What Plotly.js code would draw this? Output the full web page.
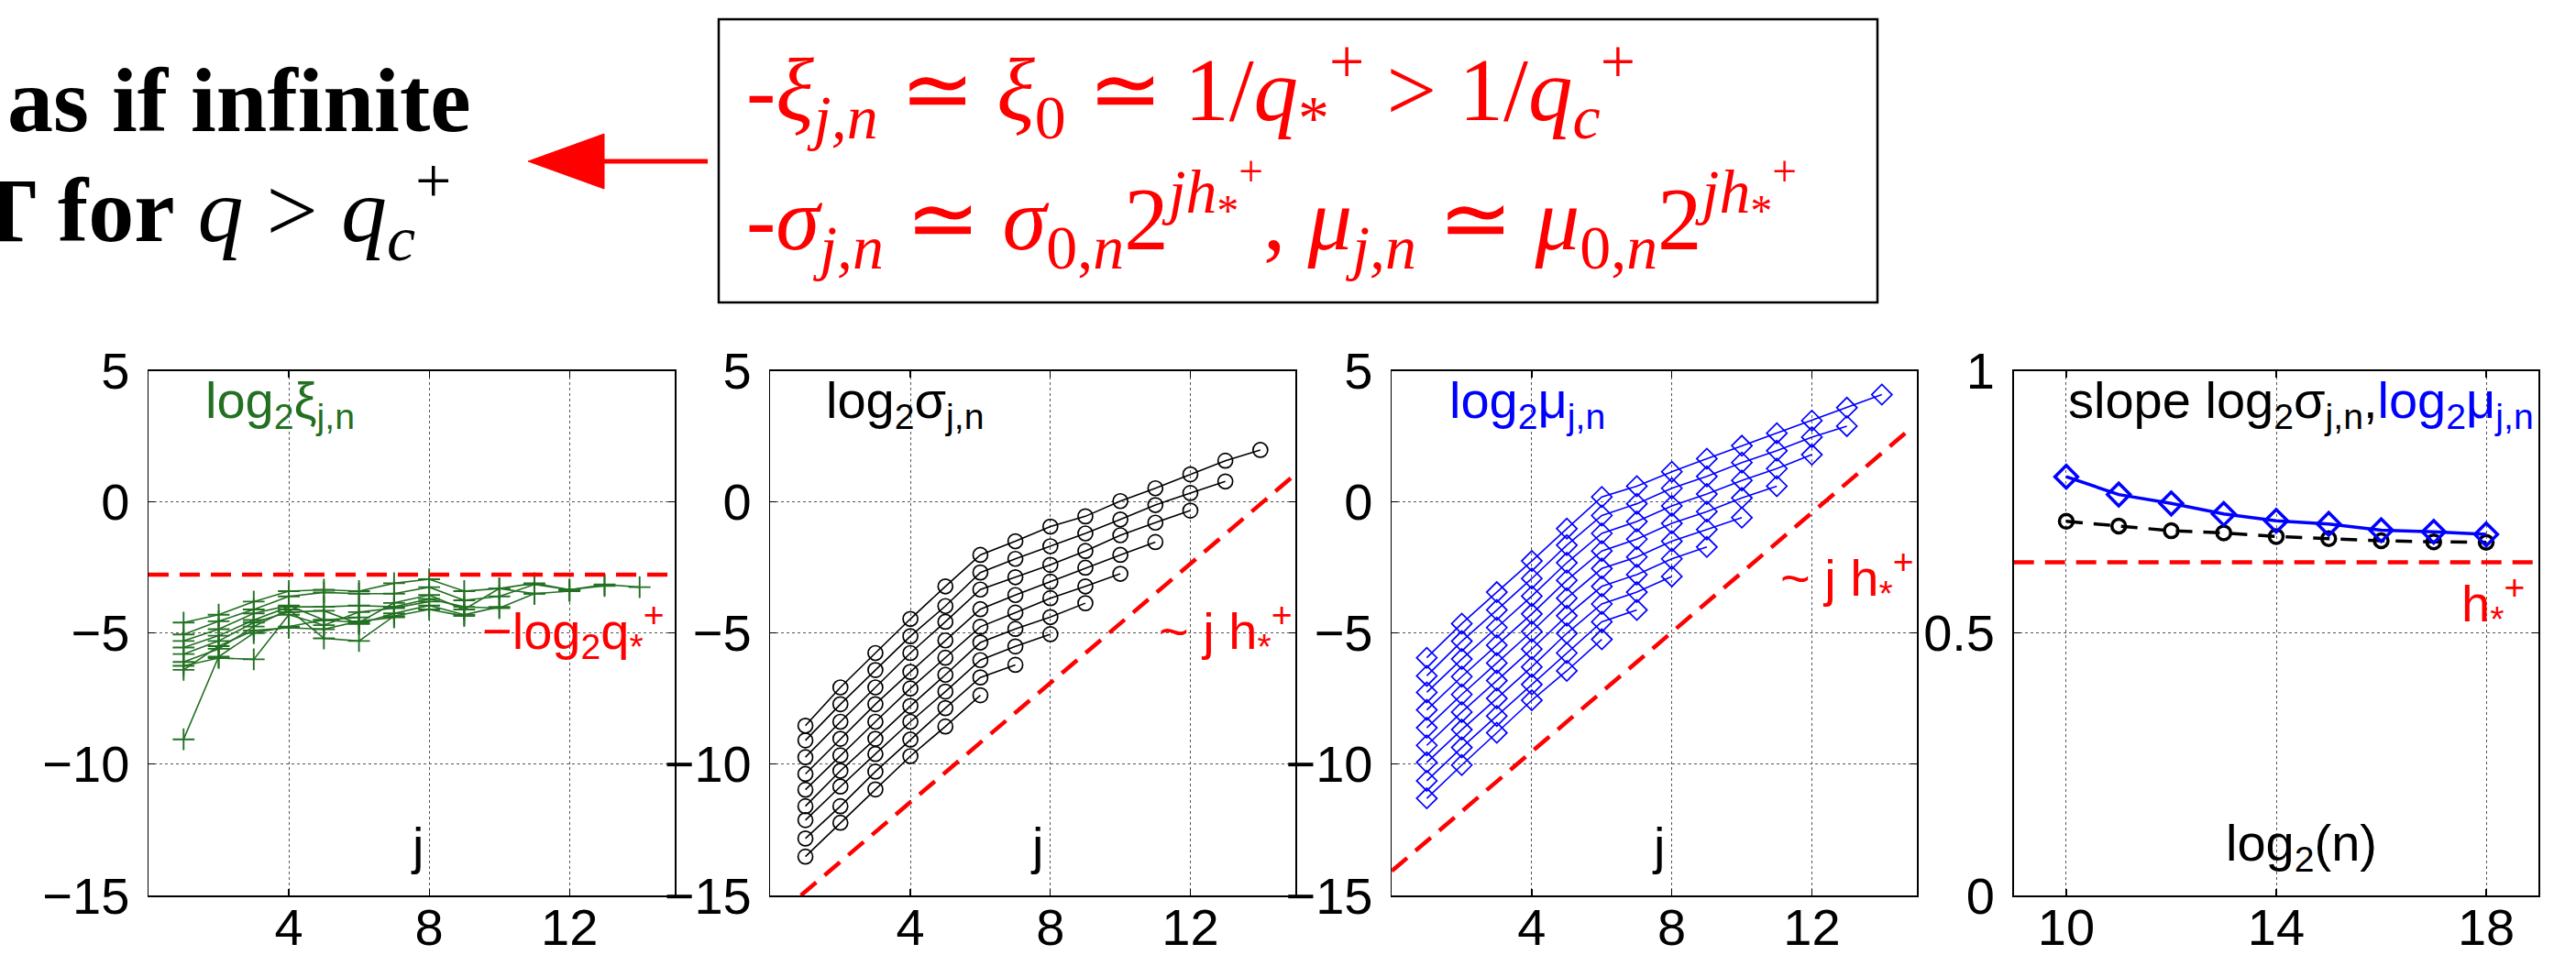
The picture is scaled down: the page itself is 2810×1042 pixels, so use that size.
<!DOCTYPE html>
<html><head><meta charset="utf-8">
<script src="https://cdn.plot.ly/plotly-3.0.1.min.js"></script>
<style>html,body{margin:0;padding:0;background:#fff;overflow:hidden}#chart{width:2810px;height:1042px}</style>
</head><body><div id="chart"></div>
<script>
// ---------------- data ----------------
const jScale = [1,2,3,4,5,6,7,8,9,10,11,12,13,14];
const nExp = [18,17,16,15,14,13,12,11,10];   // series: log2(n), longest first

const logXi = [
  [-4.6,-4.3,-3.8,-3.4,-3.35,-3.4,-3.1,-2.95,-3.4,-3.3,-3.1,-3.35,-3.15,-3.25],
  [-5.05,-4.55,-4.1,-3.6,-3.45,-3.5,-3.5,-3.25,-3.75,-3.6,-3.15,-3.35,-3.2],
  [-5.3,-4.85,-4.25,-3.95,-4.5,-4.6,-3.85,-3.55,-4.1,-3.3,-3.5,-3.4],
  [-5.55,-5.1,-4.5,-4.0,-4.0,-3.95,-4.0,-3.7,-4.0,-4.05,-3.5],
  [-5.8,-5.3,-4.6,-4.2,-4.15,-4.65,-4.25,-3.95,-4.3,-4.0],
  [-6.1,-5.6,-4.75,-4.1,-5.2,-5.3,-4.35,-4.1,-4.35],
  [-6.25,-5.95,-6.0,-4.3,-4.7,-4.2,-4.05,-3.8],
  [-6.4,-5.5,-4.9,-4.8,-4.85,-4.55,-4.4],
  [-9.05,-5.9,-5.0,-4.75,-4.5,-4.4]
];
const logSigma = [
  [-8.53,-7.07,-5.76,-4.46,-3.22,-2.02,-1.50,-0.94,-0.55,0.03,0.52,1.05,1.57,1.98],
  [-9.09,-7.71,-6.41,-5.12,-3.97,-2.69,-2.17,-1.69,-1.20,-0.67,-0.12,0.34,0.78],
  [-9.73,-8.38,-7.07,-5.76,-4.57,-3.34,-2.87,-2.40,-1.87,-1.27,-0.79,-0.33],
  [-10.37,-9.03,-7.71,-6.48,-5.28,-4.09,-3.55,-3.04,-2.51,-2.02,-1.53],
  [-10.97,-9.66,-8.38,-7.11,-5.94,-4.76,-4.22,-3.67,-3.22,-2.74],
  [-11.60,-10.25,-9.03,-7.78,-6.59,-5.36,-4.84,-4.39,-3.86],
  [-12.13,-10.85,-9.61,-8.38,-7.23,-6.03,-5.51,-5.04],
  [-12.83,-11.60,-10.28,-9.06,-7.86,-6.69,-6.21],
  [-13.52,-12.23,-10.96,-9.69,-8.56,-7.37]
];
const logMu = [
  [-5.94,-4.64,-3.44,-2.25,-1.02,0.19,0.60,1.15,1.65,2.14,2.62,3.10,3.59,4.09],
  [-6.63,-5.31,-4.12,-2.92,-1.65,-0.52,-0.07,0.52,0.97,1.50,1.95,2.47,2.89],
  [-7.26,-5.99,-4.79,-3.59,-2.32,-1.20,-0.75,-0.15,0.30,0.82,1.27,1.80],
  [-7.93,-6.66,-5.46,-4.27,-2.99,-1.87,-1.42,-0.82,-0.37,0.15,0.60],
  [-8.61,-7.34,-6.14,-4.94,-3.67,-2.54,-2.10,-1.50,-1.05,-0.60],
  [-9.28,-8.01,-6.81,-5.61,-4.34,-3.22,-2.77,-2.17,-1.72],
  [-9.93,-8.68,-7.49,-6.29,-5.01,-3.89,-3.44,-2.84],
  [-10.63,-9.36,-8.16,-6.96,-5.76,-4.57,-4.12],
  [-11.30,-10.03,-8.80,-7.56,-6.44,-5.24]
];
const log2n = [10,11,12,13,14,15,16,17,18];
const slopeSigma = [0.713,0.704,0.695,0.691,0.684,0.680,0.676,0.674,0.673];
const slopeMu    = [0.798,0.764,0.747,0.727,0.714,0.708,0.696,0.693,0.688];

const xiRefX = [0, 15],     xiRefY = [-2.77, -2.77];    // -log2 q*+
const sigRefX = [0.87, 15], sigRefY = [-15, 1.05];      // ~ j h*+
const muRefX = [0, 14.8],   muRefY = [-14.07, 2.77];    // ~ j h*+
const hRefX = [9, 19],      hRefY = [0.635, 0.635];     // h*+

const xTicksJ = [4, 8, 12];
const xTicksN = [10, 14, 18];
const yTicksLog = [-15, -10, -5, 0, 5];
const yTicksSlope = [0, 0.5, 1];

// ---------------- layout helpers ----------------
const W = 2810, H = 1042;
const GREEN = '#237023', BLUE = '#0000ff', RED = '#ff0000';
const SANS = 'Liberation Sans, Arial, sans-serif';
const SERIF = 'Liberation Serif, Times New Roman, serif';
const yDom = [1 - 977 / H, 1 - 404.5 / H];

function xAx(dom, range, ticks, anchor) {
  return {domain: dom, range: range, tickvals: ticks, ticktext: ticks.map(String),
    anchor: anchor, showline: true, linecolor: '#000', linewidth: 1.5, mirror: 'ticks',
    ticks: 'inside', ticklen: 7, tickwidth: 1.2, tickcolor: '#000',
    showgrid: true, gridcolor: '#555', griddash: 'dot', gridwidth: 1, zeroline: false,
    tickfont: {family: SANS, size: 56, color: '#000'}, ticklabelstandoff: -15, fixedrange: true};
}
function yAx(range, ticks, anchor, fmt) {
  return {domain: yDom, range: range, tickvals: ticks, ticktext: ticks.map(fmt),
    anchor: anchor, showline: true, linecolor: '#000', linewidth: 1.5, mirror: 'ticks',
    ticks: 'inside', ticklen: 7, tickwidth: 1.2, tickcolor: '#000',
    showgrid: true, gridcolor: '#555', griddash: 'dot', gridwidth: 1, zeroline: false,
    tickfont: {family: SANS, size: 56, color: '#000'}, ticklabelstandoff: 8, fixedrange: true};
}
const minus = v => (v < 0 ? '\u2212' + Math.abs(v) : String(v));

// ---------------- traces ----------------
const traces = [];
function series(arr, xa, ya, color, symbol, size, lw) {
  arr.forEach((ys, k) => {
    traces.push({x: jScale.slice(0, ys.length), y: ys, xaxis: xa, yaxis: ya,
      type: 'scatter', mode: 'lines+markers', name: 'n=2^' + nExp[k],
      line: {color: color, width: 1.6},
      marker: {symbol: symbol, size: size, color: color, line: {color: color, width: lw}},
      cliponaxis: false, showlegend: false, hoverinfo: 'skip'});
  });
}
series(logXi, 'x', 'y', GREEN, 'cross-thin-open', 17, 1.9);
series(logSigma, 'x2', 'y2', '#000', 'circle-open', 16, 1.7);
series(logMu, 'x3', 'y3', BLUE, 'diamond-open', 17, 1.7);

function dashRef(xs, ys, xa, ya) {
  traces.push({x: xs, y: ys, xaxis: xa, yaxis: ya, type: 'scatter', mode: 'lines',
    line: {color: RED, width: 4.5, dash: '22px,12px'}, showlegend: false, hoverinfo: 'skip'});
}
dashRef(xiRefX, xiRefY, 'x', 'y');
dashRef(sigRefX, sigRefY, 'x2', 'y2');
dashRef(muRefX, muRefY, 'x3', 'y3');
dashRef(hRefX, hRefY, 'x4', 'y4');

traces.push({x: log2n, y: slopeSigma, xaxis: 'x4', yaxis: 'y4', type: 'scatter', mode: 'lines+markers',
  line: {color: '#000', width: 3.5, dash: '18px,12px'},
  marker: {symbol: 'circle-open', size: 15, color: '#000', line: {color: '#000', width: 3.5}},
  cliponaxis: false, showlegend: false, hoverinfo: 'skip'});
traces.push({x: log2n, y: slopeMu, xaxis: 'x4', yaxis: 'y4', type: 'scatter', mode: 'lines+markers',
  line: {color: BLUE, width: 3.5},
  marker: {symbol: 'diamond-open', size: 19, color: BLUE, line: {color: BLUE, width: 3.5}},
  cliponaxis: false, showlegend: false, hoverinfo: 'skip'});

// ---------------- annotations ----------------
function ann(xref, yref, x, y, text, color, opts) {
  return Object.assign({xref: xref, yref: yref, x: x, y: y, text: text, showarrow: false,
    xanchor: 'left', yanchor: 'middle', font: {family: SANS, size: 56, color: color}}, opts || {});
}
const annotations = [
  ann('x', 'y', 1.56, 3.76, 'log<sub>2</sub>\u03be<sub>j,n</sub>', GREEN),
  ann('x', 'y', 9.45, -4.9, '\u2212log<sub>2</sub>q<sub>*</sub><sup>+</sup>', RED),
  ann('x', 'y', 7.66, -13.1, 'j', '#000', {xanchor: 'center'}),
  ann('x2', 'y2', 1.53, 3.76, 'log<sub>2</sub>\u03c3<sub>j,n</sub>', '#000'),
  ann('x2', 'y2', 11.05, -4.9, '~ j h<sub>*</sub><sup>+</sup>', RED),
  ann('x2', 'y2', 7.61, -13.1, 'j', '#000', {xanchor: 'center'}),
  ann('x3', 'y3', 1.58, 3.76, 'log<sub>2</sub>\u03bc<sub>j,n</sub>', BLUE),
  ann('x3', 'y3', 11.05, -2.88, '~ j h<sub>*</sub><sup>+</sup>', RED),
  ann('x3', 'y3', 7.62, -13.1, 'j', '#000', {xanchor: 'center'}),
  ann('x4', 'y4', 10.0, 0.937, 'slope log<sub>2</sub>\u03c3<sub>j,n</sub>,<span style="color:' + BLUE + '">log<sub>2</sub>\u03bc<sub>j,n</sub></span>', '#000'),
  ann('x4', 'y4', 17.5, 0.557, 'h<sub>*</sub><sup>+</sup>', RED),
  ann('x4', 'y4', 13.0, 0.094, 'log<sub>2</sub>(n)', '#000'),
  // header
  ann('paper', 'paper', 6 / W, 1 - 109 / H, '<b>as if infinite</b>', '#000', {font: {family: SERIF, size: 100, color: '#000'}}),
  ann('paper', 'paper', -29 / W, 1 - 229 / H, '<b>T for</b> <i>q</i> &gt; <i>q</i><sub><i>c</i></sub><sup>+</sup>', '#000', {font: {family: SERIF, size: 100, color: '#000'}}),
  ann('paper', 'paper', 812 / W, 1 - 97 / H, '-<i>\u03be</i><sub><i>j,n</i></sub> \u2243 <i>\u03be</i><sub>0</sub> \u2243 1/<i>q</i><sub>*</sub><sup>+</sup> &gt; 1/<i>q</i><sub><i>c</i></sub><sup>+</sup>', RED, {font: {family: SERIF, size: 97, color: RED}}),
  ann('paper', 'paper', 812 / W, 1 - 234 / H, '-<i>\u03c3</i><sub><i>j,n</i></sub> \u2243 <i>\u03c3</i><sub>0,<i>n</i></sub>2<sup><i>jh</i><sub>*</sub><sup>+</sup></sup>, <i>\u03bc</i><sub><i>j,n</i></sub> \u2243 <i>\u03bc</i><sub>0,<i>n</i></sub>2<sup><i>jh</i><sub>*</sub><sup>+</sup></sup>', RED, {font: {family: SERIF, size: 97, color: RED}})
];

// ---------------- shapes (frame box and arrow) ----------------
const px = v => v / W, py = v => 1 - v / H;
const shapes = [
  {type: 'rect', xref: 'paper', yref: 'paper', x0: px(784), x1: px(2048), y0: py(330), y1: py(21),
   line: {color: '#000', width: 2.5}, fillcolor: 'rgba(0,0,0,0)'},
  {type: 'line', xref: 'paper', yref: 'paper', x0: px(650), x1: px(772), y0: py(176), y1: py(176),
   line: {color: RED, width: 5}},
  {type: 'path', xref: 'paper', yref: 'paper',
   path: 'M ' + px(576) + ',' + py(176) + ' L ' + px(659) + ',' + py(146) + ' L ' + px(659) + ',' + py(206) + ' Z',
   fillcolor: RED, line: {color: RED, width: 1}}
];

const layout = {
  width: W, height: H, margin: {l: 0, r: 0, t: 0, b: 0},
  paper_bgcolor: '#fff', plot_bgcolor: '#fff', showlegend: false,
  xaxis: xAx([162 / W, 736 / W], [0, 15], xTicksJ, 'y'),
  yaxis: yAx([-15, 5], yTicksLog, 'x', minus),
  xaxis2: xAx([840.4 / W, 1413 / W], [0, 15], xTicksJ, 'y2'),
  yaxis2: yAx([-15, 5], yTicksLog, 'x2', minus),
  xaxis3: xAx([1518.2 / W, 2091 / W], [0, 15], xTicksJ, 'y3'),
  yaxis3: yAx([-15, 5], yTicksLog, 'x3', minus),
  xaxis4: xAx([2196.7 / W, 2769.3 / W], [9, 19], xTicksN, 'y4'),
  yaxis4: yAx([0, 1], yTicksSlope, 'x4', v => String(v)),
  annotations: annotations, shapes: shapes
};
Plotly.newPlot('chart', traces, layout, {displayModeBar: false, staticPlot: true});
</script></body></html>
